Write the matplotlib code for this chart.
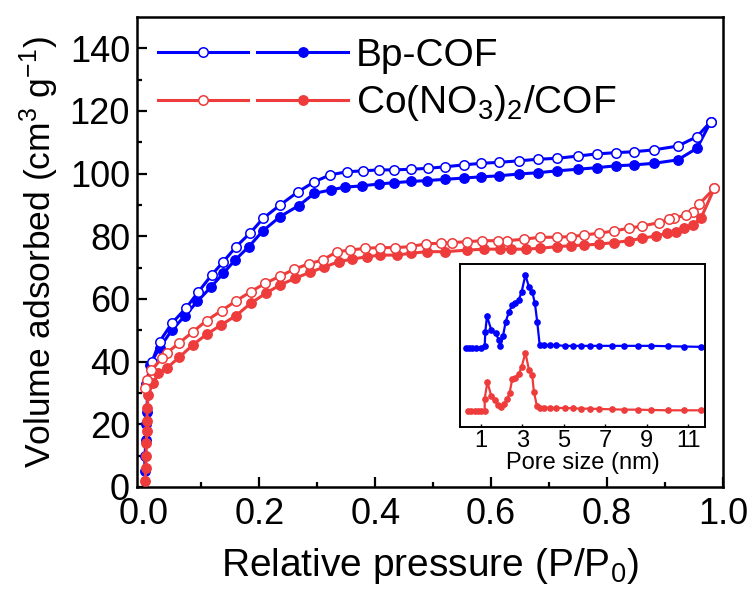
import matplotlib
matplotlib.use("Agg")
import matplotlib.pyplot as plt
from matplotlib.lines import Line2D
from matplotlib.legend_handler import HandlerTuple

plt.rcParams['font.family'] = ['Liberation Sans', 'DejaVu Sans']
plt.rcParams['mathtext.default'] = 'regular'

BLUE = '#0000FF'
RED = '#EE3B3B'

# ---- main isotherm data ----
bp_ads_x = [0.002, 0.003, 0.004, 0.005, 0.006, 0.008, 0.011, 0.028, 0.049, 0.072, 0.093, 0.117, 0.138, 0.158,
            0.182, 0.206, 0.236, 0.268, 0.295, 0.323, 0.348, 0.377, 0.406, 0.432, 0.461, 0.490, 0.521,
            0.553, 0.583, 0.613, 0.648, 0.681, 0.714, 0.749, 0.782, 0.815, 0.847, 0.881, 0.922, 0.955, 0.979]
bp_ads_y = [5, 10, 15, 20, 24, 33, 39.0, 44.4, 50.0, 54.7, 59.2, 63.9, 68.2, 72.4,
            76.7, 81.7, 86.3, 89.8, 93.7, 94.8, 95.7, 96.1, 96.7, 97.1, 97.5, 97.8, 98.2,
            98.6, 99.0, 99.3, 99.9, 100.3, 100.9, 101.4, 101.9, 102.5, 102.8, 103.3, 104.4, 108.1, 116.6]

bp_des_x = [0.979, 0.955, 0.922, 0.881, 0.847, 0.815, 0.782, 0.749, 0.714, 0.681, 0.648, 0.613, 0.583,
            0.553, 0.521, 0.491, 0.461, 0.432, 0.406, 0.379, 0.351, 0.322, 0.295, 0.266, 0.236,
            0.207, 0.184, 0.160, 0.138, 0.118, 0.095, 0.074, 0.049, 0.028, 0.015, 0.004]
bp_des_y = [116.6, 111.8, 108.8, 107.6, 107.0, 106.7, 106.3, 105.6, 104.9, 104.6, 104.1, 103.6, 103.3,
            102.8, 102.2, 101.7, 101.4, 101.2, 101.2, 100.9, 100.6, 99.6, 97.4, 94.1, 90.0,
            85.8, 81.0, 76.7, 71.9, 67.7, 62.3, 57.2, 52.2, 46.4, 40.0, 33.0]

co_ads_x = [0.003, 0.004, 0.005, 0.005, 0.006, 0.006, 0.007, 0.008, 0.017, 0.026, 0.040, 0.062, 0.085,
            0.109, 0.134, 0.160, 0.185, 0.211, 0.236, 0.262, 0.287, 0.311, 0.337, 0.360, 0.386,
            0.409, 0.438, 0.461, 0.490, 0.521, 0.559, 0.587, 0.616, 0.634, 0.660, 0.685, 0.714,
            0.737, 0.760, 0.786, 0.812, 0.838, 0.861, 0.884, 0.904, 0.919, 0.933, 0.948, 0.962, 0.985]
co_ads_y = [2, 6, 10, 14, 18, 21, 25.2, 29.4, 33.2, 36.3, 37.9, 41.4, 45.3,
            48.7, 51.7, 54.7, 58.6, 61.8, 64.5, 66.6, 68.5, 70.1, 71.9, 72.7, 73.5,
            74.0, 74.0, 74.6, 75.1, 75.1, 75.6, 75.9, 75.9, 75.9, 75.9, 76.2, 76.7,
            77.0, 77.2, 77.5, 78.0, 78.6, 79.4, 80.1, 81.0, 81.5, 82.6, 83.6, 85.8, 95.3]

co_des_x = [0.985, 0.959, 0.948, 0.936, 0.916, 0.907, 0.890, 0.861, 0.838, 0.812, 0.786, 0.760, 0.737,
            0.713, 0.685, 0.657, 0.628, 0.611, 0.585, 0.559, 0.533, 0.513, 0.487, 0.461, 0.435,
            0.409, 0.383, 0.357, 0.334, 0.310, 0.285, 0.260, 0.236, 0.210, 0.185, 0.160, 0.135,
            0.109, 0.086, 0.062, 0.040, 0.032, 0.014, 0.006, 0.002]
co_des_y = [95.3, 90.3, 87.9, 86.8, 85.8, 85.4, 84.4, 83.3, 82.6, 81.7, 81.0, 80.4, 79.9,
            79.7, 79.7, 79.1, 78.6, 78.6, 78.6, 78.3, 78.0, 77.8, 77.6, 76.7, 76.4,
            76.4, 76.2, 75.6, 75.1, 72.5, 71.2, 69.5, 67.3, 65.0, 62.3, 59.4, 56.3,
            53.1, 49.6, 46.0, 42.7, 41.1, 37.3, 34.2, 31.6]

# ---- inset pore size distribution (arbitrary units) ----
bp_pore_x = [0.28, 0.44, 0.60, 0.79, 1.00, 1.19, 1.22, 1.30, 1.51, 1.72, 1.88, 1.95, 2.07, 2.20,
             2.36, 2.52, 2.65, 2.83, 2.97, 3.15, 3.32, 3.48, 3.61, 3.72, 3.84, 4.04, 4.32,
             4.64, 5.04, 5.44, 5.84, 6.24, 6.72, 7.33, 7.92, 8.56, 9.21, 10.0, 10.8, 11.6]
bp_pore_y = [23.7, 23.7, 23.7, 23.7, 23.7, 24.2, 28.5, 33.2, 29.0, 28.0, 26.0, 24.2, 27.2, 31.5,
             34.5, 36.5, 37.0, 38.0, 40.5, 45.5, 42.0, 40.5, 37.0, 31.5, 24.5, 24.5, 24.5,
             24.5, 24.3, 24.3, 24.3, 24.3, 24.3, 24.3, 24.3, 24.3, 24.3, 24.2, 24.1, 24.0]

co_pore_x = [0.38, 0.54, 0.70, 0.86, 1.03, 1.19, 1.19, 1.32, 1.51, 1.67, 1.83, 1.99, 2.12, 2.28,
             2.39, 2.52, 2.65, 2.83, 2.97, 3.15, 3.32, 3.48, 3.56, 3.71, 3.84, 4.04, 4.32,
             4.64, 5.04, 5.44, 5.84, 6.24, 6.72, 7.33, 7.92, 8.56, 9.21, 10.0, 10.8, 11.6]
co_pore_y = [4.8, 4.8, 4.8, 4.8, 4.8, 4.8, 8.5, 13.5, 9.2, 8.0, 6.7, 6.0, 6.8, 8.5,
             10.2, 14.5, 14.8, 15.8, 18.0, 22.2, 17.2, 15.5, 10.5, 6.2, 5.8, 5.8, 5.7,
             5.7, 5.7, 5.6, 5.5, 5.5, 5.4, 5.3, 5.2, 5.2, 5.1, 5.0, 5.0, 5.0]

fig = plt.figure(figsize=(7.51, 5.92), dpi=100)
ax = fig.add_axes([0.1824, 0.1774, 0.7803, 0.7939])

ms = 6.8
lw = 2.2
ax.plot(co_ads_x, co_ads_y, '-o', color=RED, mfc=RED, mec=RED, ms=ms, lw=lw, zorder=3)
ax.plot(co_des_x, co_des_y, '-o', color=RED, mfc='white', mec=RED, ms=ms, lw=lw, mew=1.1, zorder=3)
ax.plot(bp_ads_x, bp_ads_y, '-o', color=BLUE, mfc=BLUE, mec=BLUE, ms=ms, lw=lw, zorder=2)
ax.plot(bp_des_x, bp_des_y, '-o', color=BLUE, mfc='white', mec=BLUE, ms=ms, lw=lw, mew=1.1, zorder=2)

ax.set_xlim(-0.011, 1.0)
ax.set_ylim(0, 150)
ax.set_xticks([0.0, 0.2, 0.4, 0.6, 0.8, 1.0])
ax.set_xticks([0.1, 0.3, 0.5, 0.7, 0.9], minor=True)
ax.set_yticks([0, 20, 40, 60, 80, 100, 120, 140])
ax.set_yticks([10, 30, 50, 70, 90, 110, 130], minor=True)
ax.set_xticklabels(['0.0', '0.2', '0.4', '0.6', '0.8', '1.0'])
ax.tick_params(which='major', direction='in', length=7, width=1.6, labelsize=26, pad=5)
ax.tick_params(axis='x', which='major', pad=7)
ax.tick_params(which='minor', direction='in', length=3.5, width=1.6)
for s in ax.spines.values():
    s.set_linewidth(1.8)
ax.set_xlabel('Relative pressure (P/P$_0$)', fontsize=28, labelpad=10)
ax.set_ylabel('Volume adsorbed (cm$^3$ g$^{-1}$)', fontsize=25.5, labelpad=6)

# legend
def pair(color):
    o = Line2D([], [], color=color, lw=lw, marker='o', mfc='white', mec=color, ms=ms, mew=1.1)
    f = Line2D([], [], color=color, lw=lw, marker='o', mfc=color, mec=color, ms=ms)
    return (o, f)

leg = ax.legend([pair(BLUE), pair(RED)], ['Bp-COF', 'Co(NO$_3$)$_2$/COF'],
                handler_map={tuple: HandlerTuple(ndivide=None, pad=0.23)},
                loc='upper left', bbox_to_anchor=(0.0, 1.0), frameon=False, fontsize=28,
                handlelength=4.9, numpoints=1, handletextpad=0.2, labelspacing=0.25,
                borderaxespad=0.2, borderpad=0.33)

# inset
axi = fig.add_axes([0.6125, 0.2787, 0.3262, 0.2753])
axi.plot(bp_pore_x, bp_pore_y, '-o', color=BLUE, ms=3.8, lw=1.6)
axi.plot(co_pore_x, co_pore_y, '-o', color=RED, ms=3.8, lw=1.6)
axi.set_xlim(0, 11.8)
axi.set_ylim(0, 48.8)
axi.set_xticks([1, 3, 5, 7, 9, 11])
axi.set_yticks([])
axi.tick_params(direction='in', length=2, width=1.0, labelsize=17, pad=2)
for s in axi.spines.values():
    s.set_linewidth(1.4)
axi.set_xlabel('Pore size (nm)', fontsize=17, labelpad=0)

fig.savefig('out.png', dpi=100)
